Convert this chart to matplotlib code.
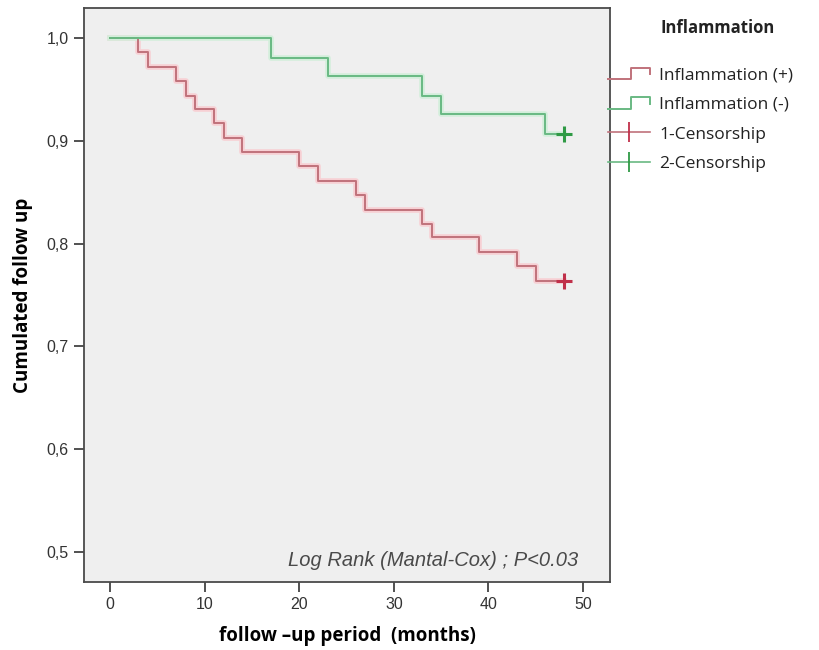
import numpy as np
import matplotlib
matplotlib.use("Agg")
import matplotlib.pyplot as plt
from matplotlib.lines import Line2D
from matplotlib.legend_handler import HandlerBase

# ---- data ----
red_times = [0, 3, 4, 7, 8, 9, 11, 12, 14, 20, 22, 26, 27, 33, 34, 39, 43, 45, 48]
red_surv = [1.0, 0.986, 0.972, 0.958, 0.944, 0.931, 0.917, 0.903, 0.889, 0.875,
            0.861, 0.847, 0.833, 0.819, 0.806, 0.792, 0.778, 0.764, 0.764]
green_times = [0, 17, 23, 33, 35, 46, 48]
green_surv = [1.0, 0.981, 0.963, 0.944, 0.926, 0.907, 0.907]
red_censor_t = [48]
red_censor_s = [0.764]
green_censor_t = [48]
green_censor_s = [0.907]

x_ticks = [0, 10, 20, 30, 40, 50]
y_ticks = [0.5, 0.6, 0.7, 0.8, 0.9, 1.0]
y_tick_labels = ["0,5", "0,6", "0,7", "0,8", "0,9", "1,0"]
series_labels = ["Inflammation (+)", "Inflammation (-)", "1-Censorship", "2-Censorship"]
legend_title = "Inflammation"
annotation = "Log Rank (Mantal-Cox) ; P<0.03"

RED = "#c0727b"
GREEN = "#69b983"
RED_DARK = "#c0304a"
GREEN_DARK = "#2f9a45"

fig = plt.figure(figsize=(8.19, 6.5), dpi=100)
fig.patch.set_facecolor("white")
ax = fig.add_axes([84 / 819, 1 - 582 / 650, (610 - 84) / 819, (582 - 8) / 650])
ax.set_facecolor("#efefef")

# faint halo (jpeg-like) then line
ax.step(red_times, red_surv, where="post", color="#f7d0d4", lw=4, zorder=2)
ax.step(green_times, green_surv, where="post", color="#d3eedb", lw=4, zorder=2)
ax.step(red_times, red_surv, where="post", color=RED, lw=1.4, zorder=3)
ax.step(green_times, green_surv, where="post", color=GREEN, lw=1.4, zorder=3)
ax.plot(red_censor_t, red_censor_s, ls="none", marker="+", ms=11, mew=2.2,
        color=RED_DARK, zorder=4)
ax.plot(green_censor_t, green_censor_s, ls="none", marker="+", ms=11, mew=2.2,
        color=GREEN_DARK, zorder=4)

ax.set_xlim(-2.75, 52.85)
ax.set_ylim(0.4707, 1.0292)
ax.set_xticks(x_ticks)
ax.set_xticklabels([str(v) for v in x_ticks], fontsize=11.5, family="Liberation Sans",
                   color="#333333")
ax.set_yticks(y_ticks)
ax.set_yticklabels(y_tick_labels, fontsize=11.5, family="Liberation Sans", color="#333333")
ax.tick_params(direction="out", length=7, width=1.2, color="#333333", pad=4)
for s in ax.spines.values():
    s.set_color("#4a4a4a")
    s.set_linewidth(1.3)

ax.set_xlabel("follow \u2013up period  (months)", fontsize=13.5, fontweight="bold",
              family="Open Sans", labelpad=10)
ax.set_ylabel("Cumulated follow up", fontsize=13.5, fontweight="bold",
              family="Open Sans", labelpad=10)

ax.text(0.939, 0.028, annotation, transform=ax.transAxes, ha="right", va="baseline",
        fontsize=14.5, style="italic", family="Liberation Sans", color="#4a4a4a")


class StepHandler(HandlerBase):
    def create_artists(self, legend, orig_handle, xdescent, ydescent, width,
                       height, fontsize, trans):
        w, h = width, height
        xs = np.array([0, 0.55 * w, 0.55 * w, w, w]) - xdescent
        ys = np.array([0.0 * h, 0.0 * h, 0.95 * h, 0.95 * h, 0.4 * h]) - ydescent
        ln = Line2D(xs, ys, color=orig_handle.get_color(), lw=1.4)
        ln.set_transform(trans)
        return [ln]


h_red = Line2D([], [], color=RED)
h_green = Line2D([], [], color=GREEN)
h_rc = Line2D([], [], color=RED, lw=1.2, marker="|", ms=15, mew=1.3,
              markeredgecolor=RED_DARK)
h_gc = Line2D([], [], color=GREEN, lw=1.2, marker="|", ms=15, mew=1.3,
              markeredgecolor=GREEN_DARK)

leg = fig.legend([h_red, h_green, h_rc, h_gc], series_labels,
                 handler_map={h_red: StepHandler(), h_green: StepHandler()},
                 loc="upper left", bbox_to_anchor=(608 / 819, 1 - 67 / 650),
                 frameon=False, prop={"family": "Open Sans", "size": 12.5},
                 handlelength=2.4, handletextpad=0.55, labelspacing=0.78,
                 borderaxespad=0, borderpad=0)
for t in leg.get_texts():
    t.set_color("#222222")

fig.text(718 / 819, 1 - 28 / 650, legend_title, ha="center", va="center",
         fontsize=12, fontweight="bold", family="Open Sans", color="#222222")

fig.savefig("out.png", dpi=100)
